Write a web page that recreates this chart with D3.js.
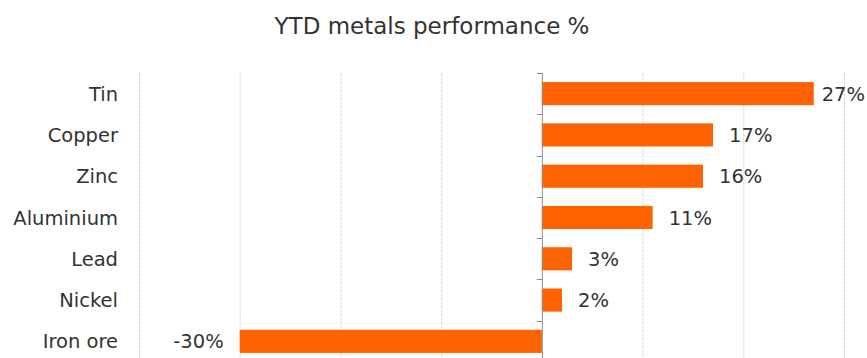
<!DOCTYPE html>
<html>
<head>
<meta charset="utf-8">
<script src="https://cdn.jsdelivr.net/npm/d3@7"></script>
<style>
  body { margin: 0; background: #fff; }
  text { font-family: "DejaVu Sans", sans-serif; fill: #333333; }
</style>
</head>
<body>
<svg id="chart" width="867" height="358"></svg>
<script>
// data
const metals = ["Tin", "Copper", "Zinc", "Aluminium", "Lead", "Nickel", "Iron ore"];
const ytdChange = [27, 17, 16, 11, 3, 2, -30];
const xTicks = [-40, -30, -20, -10, 0, 10, 20, 30];

const W = 867, H = 358;
const margin = { top: 73, right: 23, bottom: -4, left: 139 };

const svg = d3.select("#chart");
const data = metals.map((m, i) => ({ metal: m, value: ytdChange[i] }));

// scales
const x = d3.scaleLinear()
    .domain([-40, 30])
    .range([margin.left, W - margin.right]);

const y = d3.scaleBand()
    .domain(metals)
    .range([margin.top, H - margin.bottom])
    .paddingInner(0.44)
    .paddingOuter(0.22);

// title
svg.append("text")
    .attr("x", 432)
    .attr("y", 34)
    .attr("text-anchor", "middle")
    .style("font-size", "23px")
    .text("YTD metals performance %");

// gridlines
svg.append("g")
    .selectAll("line")
    .data(xTicks.filter(d => d !== 0))
    .join("line")
    .attr("x1", d => x(d) + 0.5)
    .attr("x2", d => x(d) + 0.5)
    .attr("y1", margin.top)
    .attr("y2", H)
    .attr("stroke", "#d9d9d9")
    .attr("stroke-dasharray", "3,1");

// bars
svg.append("g")
    .selectAll("rect")
    .data(data)
    .join("rect")
    .attr("x", d => x(Math.min(0, d.value)))
    .attr("y", d => y(d.metal))
    .attr("width", d => Math.abs(x(d.value) - x(0)))
    .attr("height", y.bandwidth())
    .attr("fill", "#ff6200");

// zero axis with ticks at category boundaries
const step = y.step();
const boundaries = d3.range(metals.length + 1).map(i => margin.top + i * step);
const axisG = svg.append("g");
axisG.append("line")
    .attr("x1", x(0) + 0.5).attr("x2", x(0) + 0.5)
    .attr("y1", margin.top).attr("y2", H)
    .attr("stroke", "#8c8c8c");
axisG.selectAll(".tick")
    .data(boundaries)
    .join("line")
    .attr("x1", x(0) - 5).attr("x2", x(0) + 0.5)
    .attr("y1", d => Math.round(d) + 0.5)
    .attr("y2", d => Math.round(d) + 0.5)
    .attr("stroke", "#8c8c8c");

// category labels
svg.append("g")
    .selectAll("text")
    .data(metals)
    .join("text")
    .attr("x", 118)
    .attr("y", d => y(d) + y.bandwidth() / 2)
    .attr("dy", "0.36em")
    .attr("text-anchor", "end")
    .style("font-size", "19.5px")
    .text(d => d);

// value labels
svg.append("g")
    .selectAll("text")
    .data(data)
    .join("text")
    .attr("y", d => y(d.metal) + y.bandwidth() / 2)
    .attr("dy", "0.36em")
    .attr("text-anchor", d => d.value < 0 ? "end" : "start")
    .style("font-size", "19.5px")
    .text(d => d.value + "%")
    .attr("x", function(d) {
        if (d.value < 0) return x(d.value) - 16;
        const w = this.getComputedTextLength();
        return Math.min(x(d.value) + 16, W - 2 - w);
    });
</script>
</body>
</html>
